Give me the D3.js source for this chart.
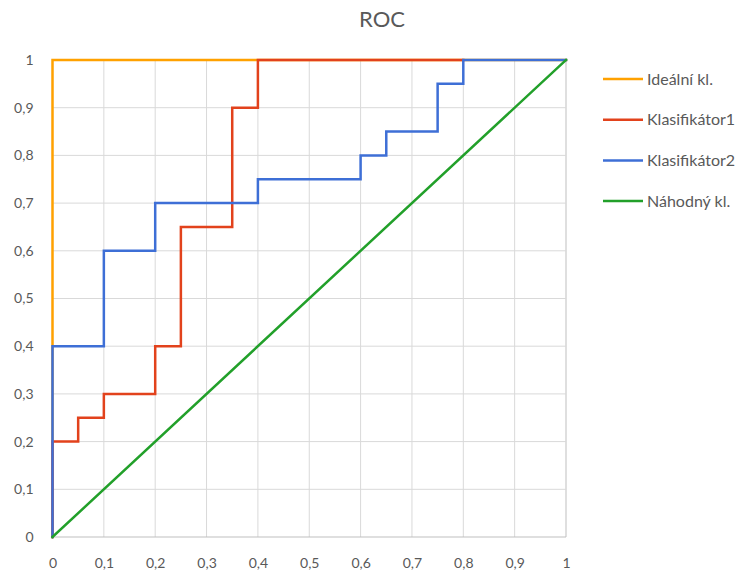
<!DOCTYPE html>
<html><head><meta charset="utf-8">
<script src="https://cdn.jsdelivr.net/npm/d3@7"></script>
<style>body{margin:0;background:#fff}svg{display:block}text{font-family:Lato,"Liberation Sans",sans-serif;fill:#595959}</style>
</head><body><svg id="c" width="747" height="570"></svg>
<script>
const title = "ROC";
const ticks = [0,0.1,0.2,0.3,0.4,0.5,0.6,0.7,0.8,0.9,1];
const seriesNames = ["Ideální kl.","Klasifikátor1","Klasifikátor2","Náhodný kl."];
const seriesColors = ["#ffa100","#e2421c","#3e6fd6","#22a02a"];
const idealX = [0,0,1];
const idealY = [0,1,1];
const k1X = [0,0,0.05,0.05,0.1,0.1,0.2,0.2,0.25,0.25,0.35,0.35,0.4,0.4,0.8];
const k1Y = [0,0.2,0.2,0.25,0.25,0.3,0.3,0.4,0.4,0.65,0.65,0.9,0.9,1,1];
const k2X = [0,0,0.1,0.1,0.2,0.2,0.4,0.4,0.6,0.6,0.65,0.65,0.75,0.75,0.8,0.8,1];
const k2Y = [0,0.4,0.4,0.6,0.6,0.7,0.7,0.75,0.75,0.8,0.8,0.85,0.85,0.95,0.95,1,1];
const randX = [0,1];
const randY = [0,1];
const seriesX = [idealX,k1X,k2X,randX];
const seriesY = [idealY,k1Y,k2Y,randY];

const svg = d3.select("#c");
const x = d3.scaleLinear().domain([0,1]).range([52.5,566]);
const y = d3.scaleLinear().domain([0,1]).range([537,60]);
const fmt = d => String(d).replace(".",",");

// grid
svg.append("g").selectAll("line.v").data(ticks).join("line")
  .attr("x1",d=>x(d)).attr("x2",d=>x(d)).attr("y1",y(0)).attr("y2",y(1))
  .attr("stroke",d=>d===1?"#bfbfbf":"#d9d9d9").attr("stroke-width",1);
svg.append("g").selectAll("line.h").data(ticks).join("line")
  .attr("x1",x(0)).attr("x2",x(1)).attr("y1",d=>y(d)).attr("y2",d=>y(d))
  .attr("stroke",d=>d===0?"#bfbfbf":"#d9d9d9").attr("stroke-width",1);

// axes labels
const xa = svg.append("g").attr("transform",`translate(0,${y(0)+18})`)
  .call(d3.axisBottom(x).tickValues(ticks).tickFormat(fmt).tickSize(0));
xa.select(".domain").remove();
xa.selectAll("text").attr("font-size",14).attr("fill","#595959").style("font-family",'Lato,"Liberation Sans",sans-serif');
const ya = svg.append("g").attr("transform",`translate(${x(0)-16},0)`)
  .call(d3.axisLeft(y).tickValues(ticks).tickFormat(fmt).tickSize(0));
ya.select(".domain").remove();
ya.selectAll("text").attr("font-size",14).attr("fill","#595959").style("font-family",'Lato,"Liberation Sans",sans-serif');

// lines
const line = d3.line().x(d=>x(d[0])).y(d=>y(d[1]));
seriesNames.forEach((n,i)=>{
  const pts = seriesX[i].map((v,j)=>[v,seriesY[i][j]]);
  svg.append("path").datum(pts).attr("d",line).attr("fill","none")
    .attr("stroke",seriesColors[i]).attr("stroke-width",2.5).attr("stroke-linejoin","miter").attr("stroke-linecap","square");
});

// title
svg.append("text").attr("x",382).attr("y",27).attr("text-anchor","middle").attr("font-size",22).text(title);

// legend
const lg = svg.append("g");
seriesNames.forEach((n,i)=>{
  const yy = 79 + i*40.7;
  lg.append("line").attr("x1",603).attr("x2",643).attr("y1",yy).attr("y2",yy).attr("stroke",seriesColors[i]).attr("stroke-width",2.5);
  lg.append("text").attr("x",647).attr("y",yy+5.5).attr("font-size",16).text(n);
});
</script></body></html>
